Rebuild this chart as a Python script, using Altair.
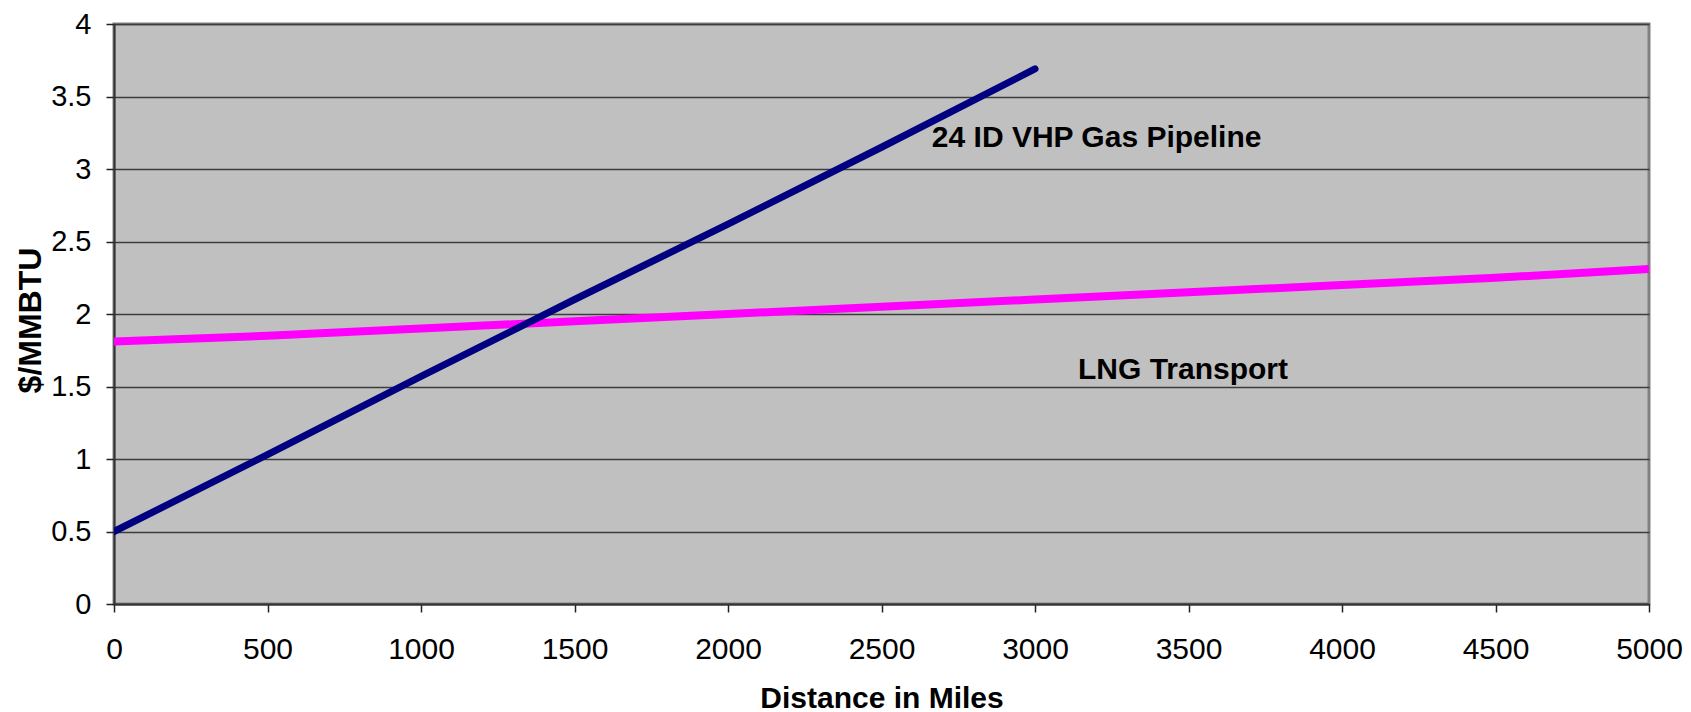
import altair as alt
import pandas as pd

# --- data ---
lng_distance = [0, 500, 1000, 1500, 2000, 2500, 3000, 3500, 4000, 4500, 5000]
lng_cost = [1.81, 1.85, 1.90, 1.95, 2.00, 2.05, 2.10, 2.15, 2.20, 2.25, 2.31]

pipe_distance = [0, 500, 1000, 1500, 2000, 2500, 3000]
pipe_cost = [0.50, 1.03, 1.57, 2.10, 2.62, 3.15, 3.69]

label_text = ["24 ID VHP Gas Pipeline", "LNG Transport"]
label_x = [2664, 3140]
label_y = [3.152, 1.552]

x_ticks = [0, 500, 1000, 1500, 2000, 2500, 3000, 3500, 4000, 4500, 5000]
y_ticks = [0, 0.5, 1, 1.5, 2, 2.5, 3, 3.5, 4]

FONT = "Liberation Sans"

lng_df = pd.DataFrame({"distance": lng_distance, "cost": lng_cost})
pipe_df = pd.DataFrame({"distance": pipe_distance, "cost": pipe_cost})
label_df = pd.DataFrame({"text": label_text, "x": label_x, "y": label_y})

x_scale = alt.Scale(domain=[0, 5000], nice=False, zero=False)
y_scale = alt.Scale(domain=[0, 4], nice=False, zero=False)

x_axis = alt.Axis(
    values=x_ticks, format="d", title="Distance in Miles", grid=False,
    labelFontSize=30, labelFont=FONT, labelColor="black", labelPadding=22,
    tickSize=8, tickColor="#222222", tickWidth=1.5,
    domainColor="#333333", domainWidth=2,
    titleFontSize=30, titleFont=FONT, titleFontWeight="bold", titleColor="black",
    titleY=103, titleBaseline="alphabetic", labelFlush=False, labelOverlap=False,
)
y_axis = alt.Axis(
    values=y_ticks, format="~g", title="$/MMBTU", grid=True, gridColor="#3c3c3c", gridWidth=1.4,
    labelFontSize=29, labelFont=FONT, labelColor="black", labelPadding=15,
    tickSize=8, tickColor="#222222", tickWidth=1.5,
    domainColor="#333333", domainWidth=2,
    titleFontSize=32, titleFont=FONT, titleFontWeight="bold", titleColor="black",
    titleX=-84, titleY=296, titleAngle=270, titleAlign="center", titleBaseline="middle",
    labelFlush=False, labelOverlap=False,
)

lng_line = alt.Chart(lng_df).mark_line(color="#FF00FF", strokeWidth=8, clip=True, strokeCap="butt").encode(
    x=alt.X("distance:Q", scale=x_scale, axis=x_axis),
    y=alt.Y("cost:Q", scale=y_scale, axis=y_axis),
)
pipe_line = alt.Chart(pipe_df).mark_line(color="#000080", strokeWidth=7, clip=True, strokeCap="round").encode(
    x=alt.X("distance:Q", scale=x_scale),
    y=alt.Y("cost:Q", scale=y_scale),
)
labels = alt.Chart(label_df).mark_text(
    align="left", baseline="alphabetic", font=FONT, fontSize=30, fontWeight="bold",
    color="black"
).encode(
    x=alt.X("x:Q", scale=x_scale),
    y=alt.Y("y:Q", scale=y_scale),
    text="text:N",
)

chart = alt.layer(lng_line, pipe_line, labels).properties(
    width=1535, height=580,
    autosize=alt.AutoSizeParams(type="none"),
    padding={"left": 114, "top": 24, "right": 42, "bottom": 108},
    background="white",
).configure_view(
    fill="#C0C0C0", stroke="#808080", strokeWidth=3,
)

chart.save("out.html", embed_options={"renderer": "svg", "actions": False})
